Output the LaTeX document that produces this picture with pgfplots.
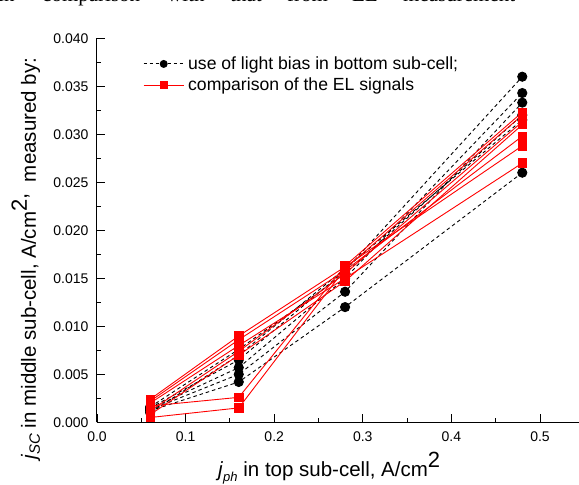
\documentclass[border=0pt]{standalone}
\usepackage{fontspec}
\setmainfont{Liberation Sans}
\newfontfamily\seriffont{Liberation Serif}
\usepackage{pgfplots}
\pgfplotsset{compat=1.18}
\begin{document}
\begin{tikzpicture}
\path[use as bounding box, clip] (-97bp,-62.7bp) rectangle (482bp,422.3bp);
\begin{axis}[
  at={(0bp,0bp)}, anchor=south west,
  scale only axis, width=487.3bp, height=384bp,
  xmin=0, xmax=0.55, ymin=0, ymax=0.04,
  axis x line*=bottom, axis y line*=left,
  axis line style={line width=1bp, -},
  xtick={0,0.1,0.2,0.3,0.4,0.5},
  ytick={0,0.005,0.01,0.015,0.02,0.025,0.03,0.035,0.04},
  minor x tick num=1, minor y tick num=1,
  tick align=inside,
  major tick length=8bp, minor tick length=4.5bp,
  tick style={black, line width=0.8bp},
  /pgf/number format/assume math mode=true,
  tick label style={font=\fontsize{14bp}{16bp}\selectfont},
  xticklabel style={/pgf/number format/.cd, fixed, fixed zerofill, precision=1, /tikz/.cd, yshift=-6bp},
  yticklabel style={/pgf/number format/.cd, fixed, fixed zerofill, precision=3, /tikz/.cd, xshift=-5bp},
  scaled y ticks=false, scaled x ticks=false,
  legend style={at={(axis cs:0.052,0.0383)}, anchor=north west, draw=none, fill=none,
    font=\fontsize{17.6bp}{20bp}\selectfont, inner sep=0pt, row sep=3bp,
    nodes={inner xsep=4bp}},
  legend cell align=left,
  legend image code/.code={\draw[mark repeat=2,mark phase=2,#1] plot coordinates {(0bp,0bp) (20bp,0bp) (40bp,0bp)};},
  bl/.style={black, line width=0.9bp, dash pattern=on 3.5bp off 3bp, mark=*, mark size=4.6bp, mark options={solid, fill=black}},
  rd/.style={red, line width=0.9bp, mark=square*, mark size=4.2bp, mark options={solid, fill=red}},
]
\addlegendimage{black, line width=0.9bp, dash pattern=on 3bp off 3bp, mark=*, mark size=3.5bp, mark options={solid, fill=black}}
\addlegendentry{use of light bias in bottom sub-cell;}
\addlegendimage{red, line width=0.9bp, mark=square*, mark size=3.4bp, mark options={solid, fill=red}}
\addlegendentry{comparison of the EL signals}
% black series: light bias in bottom sub-cell
\addplot[bl] coordinates {(0.06,0.0012) (0.16,0.0042) (0.28,0.0120) (0.48,0.0260)};
\addplot[bl] coordinates {(0.06,0.0013) (0.16,0.0050) (0.28,0.0136) (0.48,0.0333)};
\addplot[bl] coordinates {(0.06,0.0014) (0.16,0.0057) (0.28,0.0150) (0.48,0.0343)};
\addplot[bl] coordinates {(0.06,0.0015) (0.16,0.0065) (0.28,0.0158) (0.48,0.0360)};
\addplot[bl] coordinates {(0.06,0.0016) (0.16,0.0076) (0.28,0.0155) (0.48,0.0320)};
\addplot[bl] coordinates {(0.06,0.0010) (0.16,0.0070) (0.28,0.0160) (0.48,0.0315)};
% red series: comparison of EL signals
\addplot[rd] coordinates {(0.06,0.0024) (0.16,0.0090) (0.28,0.0162) (0.48,0.0288)};
\addplot[rd] coordinates {(0.06,0.0022) (0.16,0.0086) (0.28,0.0158) (0.48,0.0298)};
\addplot[rd] coordinates {(0.06,0.0020) (0.16,0.0080) (0.28,0.0150) (0.48,0.0270)};
\addplot[rd] coordinates {(0.06,0.0012) (0.16,0.0074) (0.28,0.0155) (0.48,0.0313)};
\addplot[rd] coordinates {(0.06,0.0008) (0.16,0.0070) (0.28,0.0147) (0.48,0.0310)};
\addplot[rd] coordinates {(0.06,0.0017) (0.16,0.0026) (0.28,0.0163) (0.48,0.0323)};
\addplot[rd] coordinates {(0.06,0.0005) (0.16,0.0015) (0.28,0.0160) (0.48,0.0320)};
\end{axis}
% x label
\node[anchor=base west, inner sep=0pt, font=\fontsize{20.5bp}{24bp}\selectfont] at (121bp,-54.2bp)
  {\textit{j}\raisebox{-5bp}{\fontsize{13bp}{14bp}\selectfont\itshape ph} in top sub-cell, A/cm\raisebox{9bp}{\fontsize{22bp}{24bp}\selectfont 2}};
% y label
\node[anchor=base west, inner sep=0pt, rotate=90, font=\fontsize{20.5bp}{24bp}\selectfont] at (-61bp,-37.7bp)
  {\textit{j}\raisebox{-4bp}{\fontsize{15bp}{16bp}\selectfont\itshape SC} in middle sub-cell, A/cm\raisebox{9bp}{\fontsize{22bp}{24bp}\selectfont 2,}\ \ measured by:};
% cropped running text of the page above the figure
\begin{scope}[every node/.style={anchor=base west, inner sep=0pt, font=\seriffont\fontsize{21bp}{24bp}\selectfont}]
\node at (-99bp,420.3bp) {in};
\node at (-55bp,420.3bp) {comparison};
\node at (70bp,420.3bp) {with};
\node at (133bp,420.3bp) {that};
\node at (190bp,420.3bp) {from};
\node at (255bp,420.3bp) {EL};
\node at (306bp,420.3bp) {measurement};
\end{scope}
\end{tikzpicture}
\end{document}
